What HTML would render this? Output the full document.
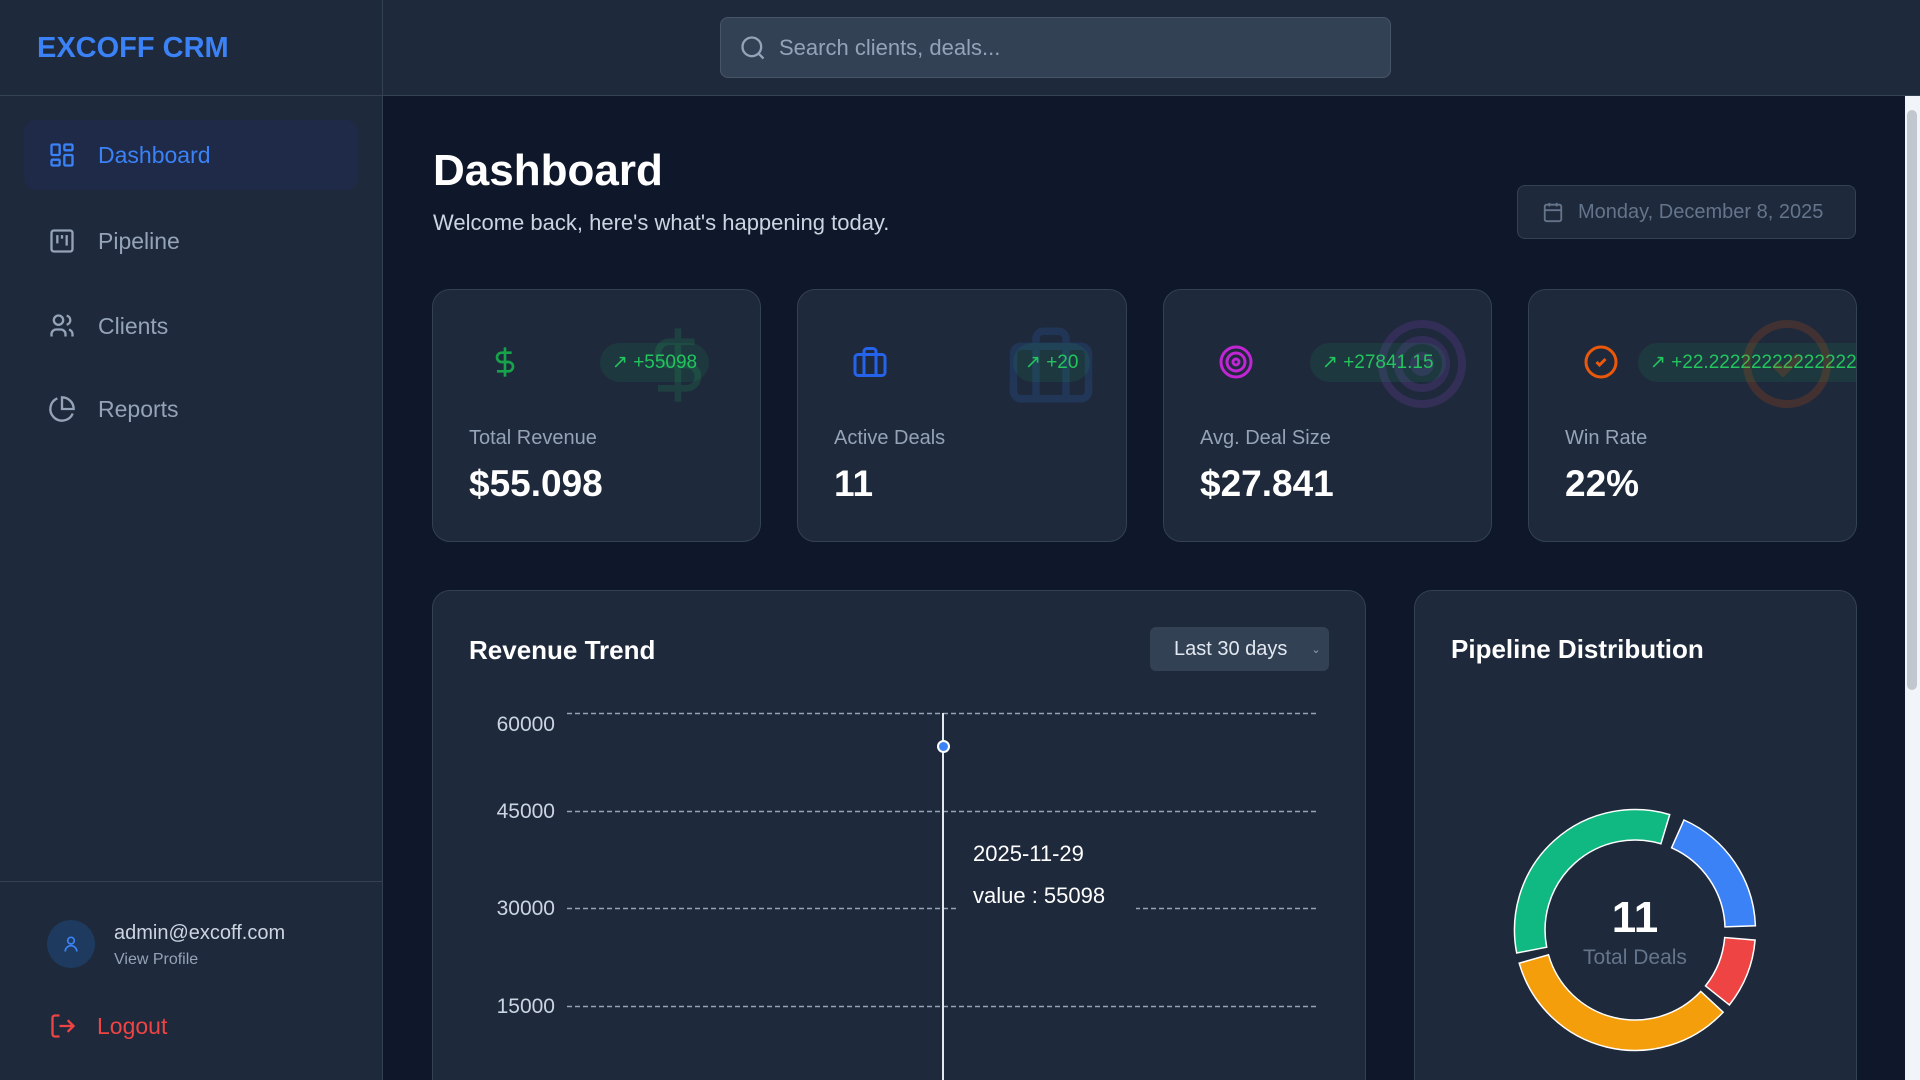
<!DOCTYPE html>
<html style="width:1920px;height:1080px;overflow:hidden"><head><meta charset="utf-8"><style>
*{margin:0;padding:0;box-sizing:border-box}
body{width:1920px;height:1080px;overflow:hidden;background:#0f172a;font-family:"Liberation Sans",sans-serif;position:relative;color:#fff}
.abs{position:absolute}
.side{left:0;top:0;width:383px;height:1080px;background:#1e293b;border-right:1px solid #334155}
.hdr{left:383px;top:0;width:1537px;height:96px;background:#1e293b;border-bottom:1px solid #334155}
.nav{left:24px;width:334px;height:70px;border-radius:12px;display:flex;align-items:center;padding-left:24px;font-size:23px;color:#94a3b8}
.nav svg{margin-right:22px}
.card{background:#1e293b;border:1px solid #334155;border-radius:18px;overflow:hidden}
.lbl{font-size:20px;color:#94a3b8}
.val{font-size:37px;font-weight:bold;color:#fff}
.badge{height:39px;border-radius:20px;background:rgba(34,197,94,0.1);color:#22c55e;font-size:19px;display:flex;align-items:center;padding:0 12px;white-space:nowrap}
.yl{font-size:21px;color:#cbd5e1;text-align:right;width:100px}
</style></head><body>
<div class="abs side"></div>
<div class="abs hdr"></div>
<div class="abs" style="left:37px;top:32px;font-size:29px;font-weight:bold;color:#3b82f6">EXCOFF CRM</div>
<div class="abs" style="left:0;top:95px;width:383px;border-top:1px solid #334155"></div>
<div class="abs" style="left:720px;top:17px;width:671px;height:61px;background:#334155;border:1px solid #475569;border-radius:8px;display:flex;align-items:center;padding-left:18px;font-size:22px;color:#94a3b8">
<svg width="28" height="28" viewBox="0 0 24 24" fill="none" stroke="#94a3b8" stroke-width="2"><circle cx="11" cy="11" r="8"/><path d="M21 21l-4.3-4.3"/></svg><span style="margin-left:12px">Search clients, deals...</span></div>

<div class="abs nav" style="top:120px;background:#1e2a47;color:#3b82f6"><svg width="28" height="28" viewBox="0 0 24 24" fill="none" stroke="#3b82f6" stroke-width="2"><rect x="3" y="3" width="7" height="9" rx="1"/><rect x="14" y="3" width="7" height="5" rx="1"/><rect x="14" y="12" width="7" height="9" rx="1"/><rect x="3" y="16" width="7" height="5" rx="1"/></svg>Dashboard</div>
<div class="abs nav" style="top:206px"><svg width="28" height="28" viewBox="0 0 24 24" fill="none" stroke="#94a3b8" stroke-width="2"><rect x="3" y="3" width="18" height="18" rx="2"/><path d="M8 7v7M12 7v3M16 7v9"/></svg>Pipeline</div>
<div class="abs nav" style="top:291px"><svg width="28" height="28" viewBox="0 0 24 24" fill="none" stroke="#94a3b8" stroke-width="2"><circle cx="9" cy="7" r="4"/><path d="M3 21v-2a4 4 0 0 1 4-4h4a4 4 0 0 1 4 4v2M16 3.1a4 4 0 0 1 0 7.8M21 21v-2a4 4 0 0 0-3-3.9"/></svg>Clients</div>
<div class="abs nav" style="top:374px"><svg width="28" height="28" viewBox="0 0 24 24" fill="none" stroke="#94a3b8" stroke-width="2"><path d="M21.2 15.9A10 10 0 1 1 8 2.8"/><path d="M22 12A10 10 0 0 0 12 2v10z"/></svg>Reports</div>

<div class="abs" style="left:0;top:881px;width:383px;border-top:1px solid #334155"></div>
<div class="abs" style="left:47px;top:920px;width:48px;height:48px;border-radius:50%;background:#1e3a5f;display:flex;align-items:center;justify-content:center"><svg width="20" height="20" viewBox="0 0 24 24" fill="none" stroke="#3b82f6" stroke-width="2"><circle cx="12" cy="8" r="4"/><path d="M5 21a7 7 0 0 1 14 0"/></svg></div>
<div class="abs" style="left:114px;top:922px;font-size:20px;color:#cbd5e1">admin@excoff.com</div>
<div class="abs" style="left:114px;top:951px;font-size:16px;color:#94a3b8">View Profile</div>
<div class="abs" style="left:49px;top:1012px;display:flex;align-items:center;color:#ef4444;font-size:23px"><svg width="28" height="28" viewBox="0 0 24 24" fill="none" stroke="#ef4444" stroke-width="2"><path d="M9 21H5a2 2 0 0 1-2-2V5a2 2 0 0 1 2-2h4M16 17l5-5-5-5M21 12H9"/></svg><span style="margin-left:20px">Logout</span></div>

<div class="abs" style="left:433px;top:146px;font-size:44px;font-weight:bold">Dashboard</div>
<div class="abs" style="left:433px;top:210px;font-size:22px;color:#cbd5e1">Welcome back, here's what's happening today.</div>
<div class="abs" style="left:1517px;top:185px;width:339px;height:54px;background:#1e293b;border:1px solid #334155;border-radius:8px;display:flex;align-items:center;padding-left:24px;font-size:20px;color:#64748b"><svg width="22" height="22" viewBox="0 0 24 24" fill="none" stroke="#64748b" stroke-width="2"><rect x="3" y="4" width="18" height="18" rx="2"/><path d="M16 2v4M8 2v4M3 10h18"/></svg><span style="margin-left:14px">Monday, December 8, 2025</span></div>

<!-- cards -->
<div class="abs card" style="left:432px;top:289px;width:329px;height:253px">
<svg class="abs" style="left:205px;top:30px;opacity:.15" width="80" height="90" viewBox="0 0 24 24" fill="none" stroke="#22c55e" stroke-width="2"><path d="M12 1v22M17 5H9.5a3.5 3.5 0 0 0 0 7h5a3.5 3.5 0 0 1 0 7H6"/></svg>
<svg class="abs" style="left:56px;top:54px" width="32" height="36" viewBox="0 0 24 24" fill="none" stroke="#16a34a" stroke-width="2"><path d="M12 1v22M17 5H9.5a3.5 3.5 0 0 0 0 7h5a3.5 3.5 0 0 1 0 7H6"/></svg>
<div class="abs badge" style="left:167px;top:53px">↗ +55098</div>
<div class="abs lbl" style="left:36px;top:137px">Total Revenue</div>
<div class="abs val" style="left:36px;top:173px">$55.098</div></div>

<div class="abs card" style="left:797px;top:289px;width:330px;height:253px">
<svg class="abs" style="left:208px;top:30px;opacity:.15" width="90" height="90" viewBox="0 0 24 24" fill="none" stroke="#3b82f6" stroke-width="2"><rect x="2" y="7" width="20" height="14" rx="2"/><path d="M16 21V5a2 2 0 0 0-2-2h-4a2 2 0 0 0-2 2v16"/></svg>
<svg class="abs" style="left:54px;top:54px" width="36" height="36" viewBox="0 0 24 24" fill="none" stroke="#2563eb" stroke-width="2"><rect x="2" y="7" width="20" height="14" rx="2"/><path d="M16 21V5a2 2 0 0 0-2-2h-4a2 2 0 0 0-2 2v16"/></svg>
<div class="abs badge" style="left:215px;top:53px">↗ +20</div>
<div class="abs lbl" style="left:36px;top:137px">Active Deals</div>
<div class="abs val" style="left:36px;top:173px">11</div></div>

<div class="abs card" style="left:1163px;top:289px;width:329px;height:253px">
<svg class="abs" style="left:210px;top:26px;opacity:.15" width="96" height="96" viewBox="0 0 24 24" fill="none" stroke="#a855f7" stroke-width="2"><circle cx="12" cy="12" r="10"/><circle cx="12" cy="12" r="6"/><circle cx="12" cy="12" r="2"/></svg>
<svg class="abs" style="left:54px;top:54px" width="36" height="36" viewBox="0 0 24 24" fill="none" stroke="#c026d3" stroke-width="2"><circle cx="12" cy="12" r="10"/><circle cx="12" cy="12" r="6"/><circle cx="12" cy="12" r="2"/></svg>
<div class="abs badge" style="left:146px;top:53px">↗ +27841.15</div>
<div class="abs lbl" style="left:36px;top:137px">Avg. Deal Size</div>
<div class="abs val" style="left:36px;top:173px">$27.841</div></div>

<div class="abs card" style="left:1528px;top:289px;width:329px;height:253px">
<div class="abs badge" style="left:109px;top:53px;padding-right:40px">↗ +22.22222222222222</div>
<svg class="abs" style="left:210px;top:26px;opacity:.18" width="96" height="96" viewBox="0 0 24 24" fill="none" stroke="#ea580c" stroke-width="2"><circle cx="12" cy="12" r="10"/><path d="M9 12l2 2 4-4"/></svg>
<svg class="abs" style="left:54px;top:54px" width="36" height="36" viewBox="0 0 24 24" fill="none" stroke="#ea580c" stroke-width="2"><circle cx="12" cy="12" r="10"/><path d="M9 12l2 2 4-4"/></svg>
<div class="abs lbl" style="left:36px;top:137px">Win Rate</div>
<div class="abs val" style="left:36px;top:173px">22%</div></div>

<!-- revenue -->
<div class="abs card" style="left:432px;top:590px;width:934px;height:510px"></div>
<div class="abs" style="left:469px;top:635px;font-size:26px;font-weight:bold">Revenue Trend</div>
<div class="abs" style="left:1150px;top:627px;width:179px;height:44px;background:#334155;border-radius:6px;font-size:20px;color:#e2e8f0;display:flex;align-items:center;padding-left:24px">Last 30 days<span style="margin-left:24px;font-size:11px;color:#94a3b8">⌄</span></div>
<svg class="abs" style="left:567px;top:700px" width="752" height="320">
<g stroke="#94a3b8" stroke-width="1.5" stroke-dasharray="5,3">
<line x1="0" y1="13.5" x2="752" y2="13.5"/><line x1="0" y1="111.5" x2="752" y2="111.5"/><line x1="0" y1="208.5" x2="752" y2="208.5"/><line x1="0" y1="306.5" x2="752" y2="306.5"/></g></svg>
<div class="abs yl" style="left:455px;top:713px">60000</div>
<div class="abs yl" style="left:455px;top:800px">45000</div>
<div class="abs yl" style="left:455px;top:897px">30000</div>
<div class="abs yl" style="left:455px;top:995px">15000</div>
<div class="abs" style="left:942px;top:713px;width:1.5px;height:380px;background:#e2e8f0"></div>
<div class="abs" style="left:956px;top:828px;width:180px;height:100px;background:#1e293b"></div>
<div class="abs" style="left:937px;top:740px;width:13px;height:13px;border-radius:50%;background:#3b82f6;border:2px solid #fff"></div>
<div class="abs" style="left:973px;top:841px;font-size:22px;color:#fff">2025-11-29</div>
<div class="abs" style="left:973px;top:883px;font-size:22px;color:#fff">value : 55098</div>

<!-- pipeline -->
<div class="abs card" style="left:1414px;top:590px;width:443px;height:510px"></div>
<div class="abs" style="left:1451px;top:634px;font-size:26px;font-weight:bold">Pipeline Distribution</div>
<svg class="abs" style="left:1505px;top:800px" width="260" height="260" viewBox="-130 -130 260 260">
<g stroke="#fff" stroke-width="1.5">
<path d="M120.4 -4.2 A120.5 120.5 0 0 0 49 -110 L36.6 -82.2 A90 90 0 0 1 90 -3.1Z" fill="#3b82f6"/>
<path d="M34.7 -115.4 A120.5 120.5 0 0 0 -118.3 23 L-88.3 17.2 A90 90 0 0 1 25.9 -86.2Z" fill="#10b981"/>
<path d="M-115.8 33.2 A120.5 120.5 0 0 0 88.1 82.2 L65.8 61.4 A90 90 0 0 1 -86.5 24.8Z" fill="#f59e0b"/>
<path d="M94.4 74.9 A120.5 120.5 0 0 0 120.1 10.1 L89.7 7.5 A90 90 0 0 1 70.5 55.9Z" fill="#ef4444"/>
</g></svg>
<div class="abs" style="left:1535px;top:893px;width:200px;text-align:center;font-size:44px;font-weight:bold">11</div>
<div class="abs" style="left:1535px;top:946px;width:200px;text-align:center;font-size:21px;color:#64748b">Total Deals</div>

<!-- scrollbar -->
<div class="abs" style="left:1905px;top:96px;width:15px;height:984px;background:#f1f5f9"></div>
<div class="abs" style="left:1907px;top:110px;width:10px;height:580px;background:#c1c7cf;border-radius:5px"></div>
</body></html>
